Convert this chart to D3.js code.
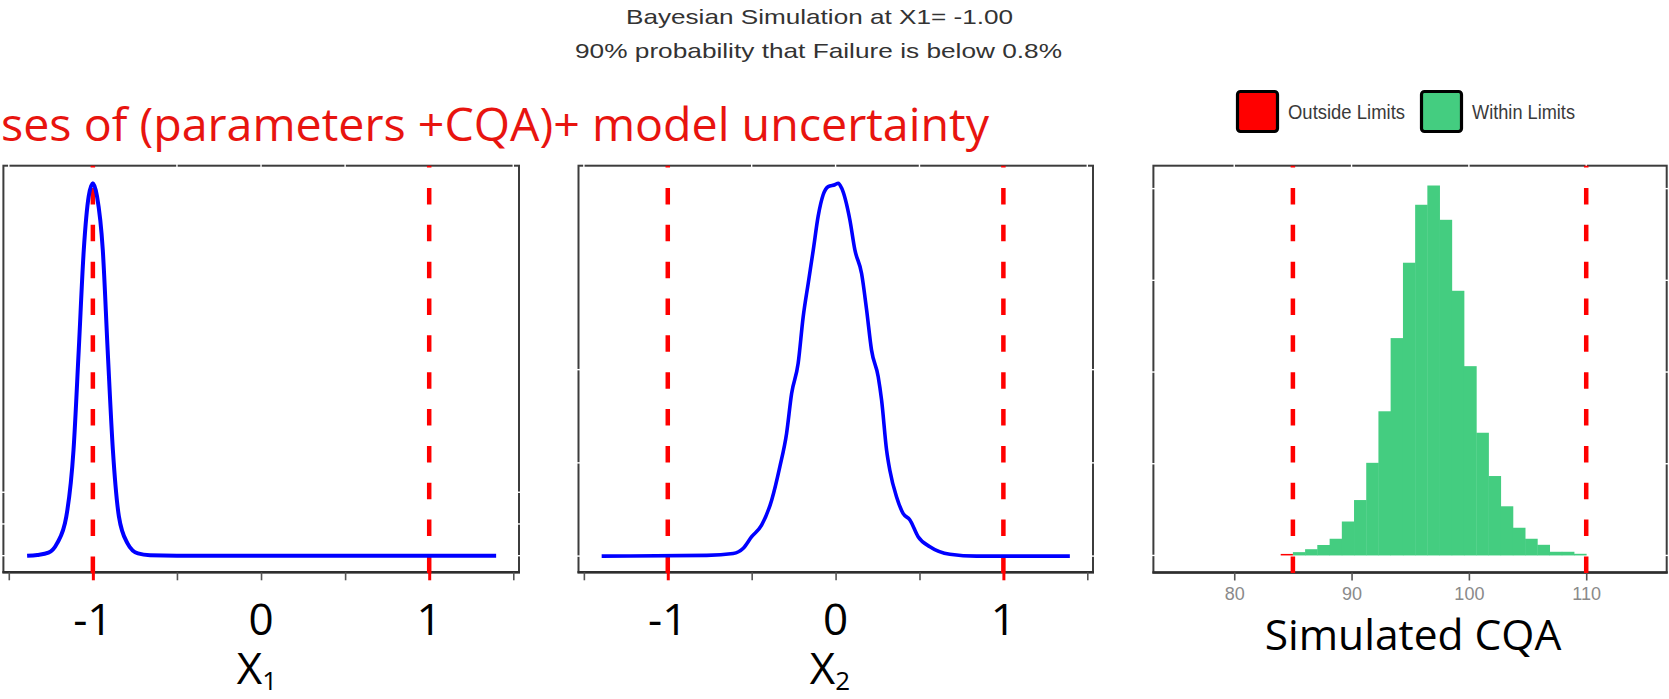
<!DOCTYPE html>
<html>
<head>
<meta charset="utf-8">
<script src="https://cdn.jsdelivr.net/npm/d3@7"></script>
<style>
  html, body { margin: 0; padding: 0; background: #fff; }
  svg { display: block; }
</style>
</head>
<body>
<svg id="chart" width="1669" height="699"></svg>
<script>
// ---- Text ----
const titleLines = ["Bayesian Simulation at X1= -1.00", "90% probability that Failure is below 0.8%"];
const subtitle = "ses of (parameters +CQA)+ model uncertainty";
const legendLabels = ["Outside Limits", "Within Limits"];
const cqaAxisTitle = "Simulated CQA";

// ---- Posterior density of X1 (x, density) ----
const x1Grid    = [-1.391, -1.33, -1.264, -1.213, -1.158, -1.115, -1.084, -1.054, -1.025, -1.0, -0.975, -0.941, -0.912, -0.881, -0.845, -0.794, -0.732, -0.66, -0.5, 1.398];
const x1Density = [0, 0.012, 0.047, 0.194, 0.616, 1.667, 3.24, 4.82, 5.66, 5.87, 5.66, 4.82, 3.24, 1.667, 0.616, 0.194, 0.035, 0.006, 0, 0];

// ---- Posterior density of X2 (x, density) ----
const x2Grid    = [-1.394, -0.768, -0.61, -0.55, -0.5, -0.441, -0.381, -0.332, -0.292, -0.262, -0.223, -0.193, -0.163, -0.133, -0.104, -0.074, -0.044, -0.004, 0.016, 0.036, 0.085, 0.115, 0.155, 0.185, 0.214, 0.254, 0.274, 0.304, 0.323, 0.363, 0.403, 0.443, 0.492, 0.562, 0.681, 0.84, 1.396];
const x2Density = [0, 0.004, 0.014, 0.042, 0.104, 0.166, 0.3, 0.48, 0.658, 0.872, 1.034, 1.284, 1.464, 1.642, 1.822, 1.938, 1.982, 1.992, 2.0, 1.974, 1.804, 1.642, 1.516, 1.32, 1.106, 0.962, 0.838, 0.568, 0.462, 0.318, 0.228, 0.194, 0.104, 0.05, 0.01, 0, 0];

// ---- Simulated CQA histogram ----
const cqaBinLow   = [85, 86.04, 87.08, 88.13, 89.17, 90.21, 91.25, 92.29, 93.33, 94.38, 95.42, 96.46, 97.5, 98.54, 99.58, 100.63, 101.67, 102.71, 103.75, 104.79, 105.83, 106.88, 107.92, 108.96];
const cqaBinHigh  = [86.04, 87.08, 88.13, 89.17, 90.21, 91.25, 92.29, 93.33, 94.38, 95.42, 96.46, 97.5, 98.54, 99.58, 100.63, 101.67, 102.71, 103.75, 104.79, 105.83, 106.88, 107.92, 108.96, 110];
const cqaCounts   = [18, 34, 57, 91, 185, 302, 505, 786, 1185, 1596, 1912, 2017, 1830, 1443, 1032, 669, 433, 268, 151, 91, 58, 20, 20, 9];
const outBinLow   = [83.96];
const outBinHigh  = [85];
const outCounts   = [5];

// ---- Axes ----
const xLimits      = [-1, 1];
const cqaLimits    = [85, 110];
const xTickValues  = [-1.5, -1, -0.5, 0, 0.5, 1, 1.5];
const xTickLabels  = ["-1", "0", "1"];
const xLabelValues = [-1, 0, 1];
const cqaTicks     = [80, 90, 100, 110];
const y1Ticks      = [0, 0.5, 1];
const y2Ticks      = [0, 0.5, 1];
const y3Ticks      = [0, 500, 1000, 1500, 2000];

const svg = d3.select("#chart");
const frameColor = "#3c3c3c";
const red = "#ff0000";

// ---- Panel scales ----
const px1 = d3.scaleLinear().domain([-1.532, 1.534]).range([3.4, 519]);
const py1 = d3.scaleLinear().domain([-0.262, 6.147]).range([572.3, 165.7]);
const px2 = d3.scaleLinear().domain([-1.532, 1.534]).range([578.5, 1093]);
const py2 = d3.scaleLinear().domain([-0.087, 2.094]).range([572.3, 165.7]);
const px3 = d3.scaleLinear().domain([73.11, 116.86]).range([1153.4, 1666.7]);
const py3 = d3.scaleLinear().domain([-93, 2125]).range([572.5, 165.7]);

function drawFrame(g, x, y, xt, yt, labelledTicks) {
  const [l, r] = x.range();
  const [b, t] = y.range();
  g.append("rect")
    .attr("x", l).attr("y", t).attr("width", r - l).attr("height", b - t)
    .attr("fill", "none").attr("stroke", frameColor).attr("stroke-width", 2);
  g.append("line").attr("x1", l - 1).attr("x2", r + 1).attr("y1", b).attr("y2", b)
    .attr("stroke", "#2e2e2e").attr("stroke-width", 2.6);
  // small breaks in the frame at tick positions
  g.selectAll(".notch-top").data(xt.filter(d => !xLimits.includes(d))).join("line")
    .attr("x1", d => x(d)).attr("x2", d => x(d)).attr("y1", t - 2).attr("y2", t + 2)
    .attr("stroke", "#fff").attr("stroke-width", 1.4);
  g.selectAll(".notch-left").data(yt).join("line")
    .attr("x1", l - 2).attr("x2", l + 2).attr("y1", d => y(d)).attr("y2", d => y(d))
    .attr("stroke", "#fff").attr("stroke-width", 1.4);
  g.selectAll(".notch-right").data(yt).join("line")
    .attr("x1", r - 2).attr("x2", r + 2).attr("y1", d => y(d)).attr("y2", d => y(d))
    .attr("stroke", "#fff").attr("stroke-width", 1.4);
  // outward ticks along the bottom
  const ax = g.append("g").attr("transform", `translate(0,${b})`)
    .call(d3.axisBottom(x).tickValues(xt).tickSize(8).tickFormat(labelledTicks ? d3.format("d") : ""));
  ax.select(".domain").remove();
  ax.selectAll(".tick line").attr("stroke", "#555").attr("stroke-width", 1.6);
  return ax;
}

function drawLimits(g, x, y, limits) {
  const [b, t] = y.range();
  g.selectAll(".limit").data(limits).join("line")
    .attr("x1", d => x(d)).attr("x2", d => x(d))
    .attr("y1", t).attr("y2", b + 1)
    .attr("stroke", red).attr("stroke-width", 4.5)
    .attr("stroke-dasharray", "16.5 20.35").attr("stroke-dashoffset", 14.6);
}

// ---- Panel 1: X1 ----
const g1 = svg.append("g");
const ax1 = drawFrame(g1, px1, py1, xTickValues, y1Ticks, false);
ax1.selectAll(".tick line").filter(d => xLimits.includes(d)).attr("stroke", red).attr("stroke-width", 3);
drawLimits(g1, px1, py1, xLimits);
const line1 = d3.line().x(d => px1(d[0])).y(d => py1(d[1])).curve(d3.curveMonotoneX);
g1.append("path").datum(d3.zip(x1Grid, x1Density)).attr("d", line1)
  .attr("fill", "none").attr("stroke", "#0000ff").attr("stroke-width", 4).attr("stroke-linejoin", "round");

// ---- Panel 2: X2 ----
const g2 = svg.append("g");
const ax2 = drawFrame(g2, px2, py2, xTickValues, y2Ticks, false);
ax2.selectAll(".tick line").filter(d => xLimits.includes(d)).attr("stroke", red).attr("stroke-width", 3);
drawLimits(g2, px2, py2, xLimits);
const line2 = d3.line().x(d => px2(d[0])).y(d => py2(d[1])).curve(d3.curveMonotoneX);
g2.append("path").datum(d3.zip(x2Grid, x2Density)).attr("d", line2)
  .attr("fill", "none").attr("stroke", "#0000ff").attr("stroke-width", 3.6).attr("stroke-linejoin", "round");

// ---- Panel 3: Simulated CQA histogram ----
const g3 = svg.append("g");
const ax3 = drawFrame(g3, px3, py3, cqaTicks, y3Ticks, true);
ax3.selectAll(".tick text")
  .attr("fill", "#8a8a8a").attr("font-family", "Liberation Sans, Arial, sans-serif")
  .attr("font-size", 18).attr("dy", null).attr("y", 27);
g3.selectAll(".bar-in").data(d3.range(cqaCounts.length)).join("rect")
  .attr("x", i => px3(cqaBinLow[i]))
  .attr("width", i => px3(cqaBinHigh[i]) - px3(cqaBinLow[i]) + 0.4)
  .attr("y", i => py3(cqaCounts[i]))
  .attr("height", i => py3(0) - py3(cqaCounts[i]))
  .attr("fill", "#44cd80");
g3.selectAll(".bar-out").data(d3.range(outCounts.length)).join("rect")
  .attr("x", i => px3(outBinLow[i]))
  .attr("width", i => px3(outBinHigh[i]) - px3(outBinLow[i]))
  .attr("y", i => py3(outCounts[i]) - 0.6)
  .attr("height", i => py3(0) - py3(outCounts[i]) + 0.6)
  .attr("fill", red);
drawLimits(g3, px3, py3, cqaLimits);

// ---- Legend ----
const legendColors = [red, "#44cd80"];
const legendX = [1237.5, 1421.5];
const legendTextX = [1288, 1472];
const legendTextW = [117, 103];
const lg = svg.append("g");
legendLabels.forEach((lab, i) => {
  lg.append("rect").attr("x", legendX[i]).attr("y", 91.5).attr("width", 40).attr("height", 40)
    .attr("rx", 3).attr("fill", legendColors[i]).attr("stroke", "#000").attr("stroke-width", 3.2);
  lg.append("text").attr("x", legendTextX[i]).attr("y", 119)
    .attr("font-family", "Liberation Sans Narrow, Liberation Sans, Arial, sans-serif")
    .attr("font-size", 21).attr("fill", "#3a3a3a")
    .attr("textLength", legendTextW[i]).attr("lengthAdjust", "spacingAndGlyphs")
    .text(lab);
});

// ---- Title ----
svg.append("text").attr("x", 819.5).attr("y", 24).attr("text-anchor", "middle")
  .attr("font-family", "Liberation Sans, Arial, sans-serif").attr("font-size", 21).attr("fill", "#333")
  .attr("textLength", 387).attr("lengthAdjust", "spacingAndGlyphs")
  .text(titleLines[0]);
svg.append("text").attr("x", 818.5).attr("y", 58).attr("text-anchor", "middle")
  .attr("font-family", "Liberation Sans, Arial, sans-serif").attr("font-size", 21).attr("fill", "#333")
  .attr("textLength", 487).attr("lengthAdjust", "spacingAndGlyphs")
  .text(titleLines[1]);

// ---- Red annotation ----
svg.append("text").attr("x", 1).attr("y", 141)
  .attr("font-family", "Open Sans, sans-serif").attr("font-size", 46).attr("fill", "#e8140f")
  .attr("textLength", 988).attr("lengthAdjust", "spacingAndGlyphs")
  .text(subtitle);

// ---- Large axis labels for X1 and X2 ----
const bigFont = "Open Sans, sans-serif";
[[px1, g1], [px2, g2]].forEach(([x, g]) => {
  g.selectAll(".big-tick").data(xLabelValues).join("text")
    .attr("x", d => x(d)).attr("y", 635).attr("text-anchor", "middle")
    .attr("font-family", bigFont).attr("font-size", 44).attr("fill", "#000")
    .text((d, i) => xTickLabels[i]);
});
function axisName(x, sub) {
  const t = svg.append("text").attr("x", x).attr("y", 684).attr("text-anchor", "middle")
    .attr("font-family", bigFont).attr("font-size", 44).attr("fill", "#000");
  t.append("tspan").text("X");
  t.append("tspan").attr("font-size", 26).attr("dy", 6).text(sub);
}
axisName(257, "1");
axisName(830, "2");
svg.append("text").attr("x", 1413).attr("y", 650).attr("text-anchor", "middle")
  .attr("font-family", bigFont).attr("font-size", 42.5).attr("fill", "#000")
  .text(cqaAxisTitle);
</script>
</body>
</html>
